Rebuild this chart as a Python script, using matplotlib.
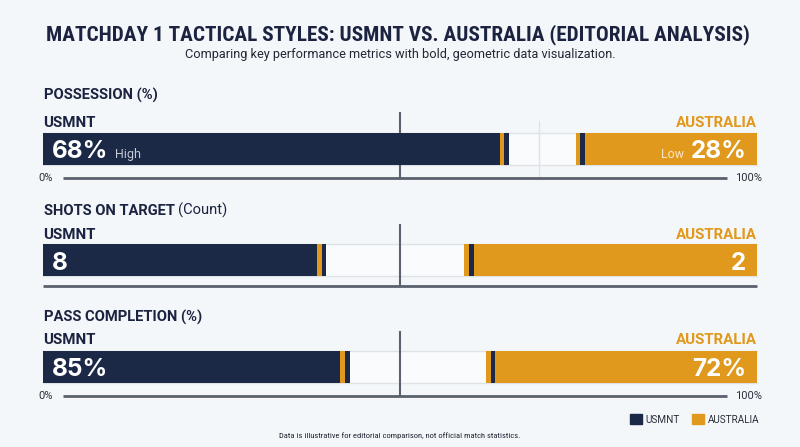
import matplotlib
matplotlib.use('Agg')
import matplotlib.pyplot as plt
from matplotlib.patches import Patch

# --- data ---
metric_titles = ['POSSESSION (%)', 'SHOTS ON TARGET', 'PASS COMPLETION (%)']
metric_notes = ['', '(Count)', '']
usmnt_values = [68, 8, 85]
australia_values = [28, 2, 72]
value_suffix = ['%', '', '%']
usmnt_tags = ['High', '', '']
australia_tags = ['Low', '', '']
# bar length as share of the full track (as drawn in the reference)
usmnt_share = [0.653, 0.397, 0.430]
australia_share = [0.254, 0.410, 0.380]
scale_labels = [('0%', '100%'), None, ('0%', '100%')]
ref_line = [0.695, None, None]

BG = '#f4f7fa'
TRACK = '#f9fbfc'
NAVY = '#1c2946'
ORANGE = '#e0991c'
INK = '#1b2340'
GREY = '#5b616d'

W, H = 800, 447
def fx(px): return px / W
def fy(py): return 1 - py / H

COND = ['Roboto Condensed', 'Barlow Semi Condensed', 'Roboto']

fig = plt.figure(figsize=(8, 4.47), dpi=100, facecolor=BG)
r = fig.canvas.get_renderer()

def fit(t, target):
    w = t.get_window_extent(r).width
    t.set_fontsize(t.get_fontsize() * target / w)

title = fig.text(fx(397.5), fy(40), 'MATCHDAY 1 TACTICAL STYLES: USMNT VS. AUSTRALIA (EDITORIAL ANALYSIS)',
                 ha='center', va='baseline', fontsize=15, weight='bold', color=INK, family=COND)
fit(title, 707)
sub = fig.text(fx(400), fy(58.3), 'Comparing key performance metrics with bold, geometric data visualization.',
               ha='center', va='baseline', fontsize=9.5, color='#222734', family=['Roboto'])
fit(sub, 434)

header_base = [99.3, 215, 322]
team_base = [127, 239, 344.5]
bar_top = [132.7, 244.3, 350.7]
axis_y = [177.7, 286, 396]
center_top = [113, 225, 332]
axis_span = [(63, 727.5), (43, 757), (63, 727.5)]
BAR_H = 32
X0, TW = 43, 714

for i in range(3):
    bb = bar_top[i] + BAR_H
    ax = fig.add_axes([fx(X0), fy(bb), TW / W, BAR_H / H])
    ax.set_xlim(0, 1)
    ax.set_ylim(0, 1)
    ax.axis('off')

    def ay(py):
        return (bb - py) / BAR_H

    # track
    ax.barh(0.5, 1, height=1, color=TRACK, zorder=0)
    for yy in (0, 1):
        ax.plot([0, 1], [yy, yy], color='#dfe3e8', lw=1, zorder=1, clip_on=False)
    if ref_line[i] is not None:
        ax.plot([ref_line[i]] * 2, [ay(177), ay(121)], color='#dfe3e8', lw=1, zorder=1, clip_on=False)
    # center divider
    ax.plot([0.5, 0.5], [ay(axis_y[i]), ay(center_top[i])], color=GREY, lw=1.5, zorder=2, clip_on=False)

    s = 0.0068
    us = usmnt_share[i]
    au = australia_share[i]
    ax.barh(0.5, us, left=0, height=1, color=NAVY, zorder=3)
    ax.barh(0.5, s, left=us - 2 * s, height=1, color=ORANGE, zorder=4)
    ax.barh(0.5, au, left=1 - au, height=1, color=ORANGE, zorder=3)
    ax.barh(0.5, s, left=1 - au + s, height=1, color=NAVY, zorder=4)

    # baseline axis
    a0, a1 = axis_span[i]
    ax.plot([(a0 - X0) / TW, (a1 - X0) / TW], [ay(axis_y[i])] * 2, color=GREY, lw=2,
            zorder=2, clip_on=False, solid_capstyle='butt')
    if scale_labels[i]:
        ax.text((45.8 - X0) / TW, ay(axis_y[i]), scale_labels[i][0], ha='center', va='center',
                fontsize=8, color='#2a2f3a', family='Roboto')
        ax.text((748.5 - X0) / TW, ay(axis_y[i]), scale_labels[i][1], ha='center', va='center',
                fontsize=8, color='#2a2f3a', family='Roboto')

    # headers
    h = fig.text(fx(44), fy(header_base[i]), metric_titles[i], ha='left', va='baseline',
                 fontsize=10.6, weight='bold', color=INK, family='Roboto')
    if metric_notes[i]:
        fig.canvas.draw()
        ext = h.get_window_extent(r)
        fig.text((ext.x1 + 3) / W, fy(header_base[i]), metric_notes[i], ha='left', va='baseline',
                 fontsize=10.6, color=INK, family='Roboto')
    fig.text(fx(43.5), fy(team_base[i]), 'USMNT', ha='left', va='baseline',
             fontsize=10.8, weight='bold', color=INK, family='Roboto')
    fig.text(fx(757), fy(team_base[i]), 'AUSTRALIA', ha='right', va='baseline',
             fontsize=10.8, weight='bold', color=ORANGE, family='Roboto')

    # values inside bars
    vb = ay(bb - 6.4)
    tu = ax.text(8.7 / TW, vb, f'{usmnt_values[i]}{value_suffix[i]}', ha='left', va='baseline',
                 fontsize=17.5, weight='bold', color='white', family='Inter')
    ta = ax.text(1 - 10.5 / TW, vb, f'{australia_values[i]}{value_suffix[i]}', ha='right', va='baseline',
                 fontsize=17.5, weight='bold', color='white', family='Inter')
    if usmnt_tags[i] or australia_tags[i]:
        fig.canvas.draw()
        inv = ax.transAxes.inverted()
        eu = tu.get_window_extent(r)
        ea = ta.get_window_extent(r)
        ax.text(inv.transform((eu.x1 + 7, 0))[0], vb, usmnt_tags[i], ha='left', va='baseline',
                fontsize=9, color='#c5cad4', family='Roboto')
        ax.text(inv.transform((ea.x0 - 7, 0))[0], vb, australia_tags[i], ha='right', va='baseline',
                fontsize=9, color='#f8e6c4', family='Roboto')

leg = fig.legend(handles=[Patch(color=NAVY, label='USMNT'), Patch(color=ORANGE, label='AUSTRALIA')],
                 loc='center right', bbox_to_anchor=(fx(759), fy(419.5)), ncol=2, frameon=False,
                 fontsize=7.2, handlelength=1.15, handleheight=1.15, handletextpad=0.4,
                 columnspacing=1.2, borderpad=0, borderaxespad=0,
                 prop={'family': 'Roboto', 'size': 7.2})
for t in leg.get_texts():
    t.set_color('#2a2f3a')

foot = fig.text(fx(400), fy(435.3), 'Data is illustrative for editorial comparison, not official match statistics.',
                ha='center', va='center', fontsize=6, color='#1f2430', family=COND)
fit(foot, 242)

fig.savefig('out.png', facecolor=BG)
